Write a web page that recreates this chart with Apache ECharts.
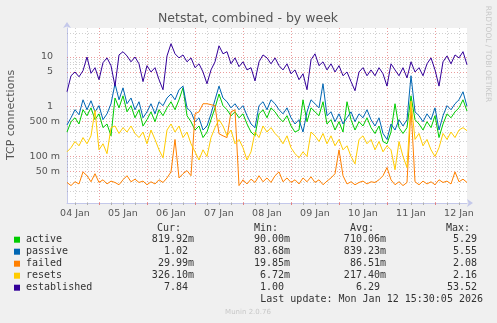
<!DOCTYPE html>
<html><head><meta charset="utf-8">
<script src="https://cdn.jsdelivr.net/npm/echarts@6/dist/echarts.min.js"></script>
<style>html,body{margin:0;padding:0;background:#f0f0f0;}#c{width:497px;height:323px;}</style>
</head><body><div id="c"></div>
<script>
// Time axis: Jan 4 08:00 onward, one point every 2 hours (hours since Jan 4 00:00)
const startHour = 8;
const stepHours = 2;

const active = [
0.31,0.5,0.6,0.45,0.87,0.66,0.95,0.55,0.72,0.38,
0.45,0.26,1.5,0.95,1.66,0.79,1.05,0.6,0.87,0.41,
0.55,0.79,0.5,0.87,0.66,0.95,1.26,0.87,1.38,2.4,
0.66,0.5,0.34,0.41,0.24,0.31,0.55,0.95,1.8,1.05,
0.87,0.66,0.79,0.6,0.72,0.45,0.31,0.26,0.72,0.87,
0.6,0.95,0.79,0.6,0.5,0.66,0.41,0.31,0.34,1.38,
0.5,0.95,0.79,0.66,1.26,0.45,0.55,0.34,0.5,0.31,
1.26,0.55,0.34,0.5,0.41,0.6,0.38,0.29,0.41,0.2,
0.18,0.31,1.15,0.38,0.29,0.38,1.66,0.55,0.45,0.34,
0.5,0.38,0.66,0.24,0.45,0.72,0.6,0.79,0.95,1.38,
0.82];
const passive = [
0.43,0.6,0.87,0.69,1.38,0.87,1.32,0.79,1.05,0.55,
0.72,1.15,2.9,1.38,2.4,1.15,1.5,0.87,1.26,0.6,
0.79,1.15,0.72,1.26,1.05,1.5,1.8,1.38,2.2,2.6,
0.95,0.79,0.5,0.6,0.34,0.41,0.72,1.38,2.6,1.5,
1.26,0.95,1.15,0.87,1.05,0.66,0.45,0.38,1.05,1.26,
0.87,1.38,1.15,0.87,0.72,0.95,0.6,0.45,0.55,0.31,
0.79,1.38,1.15,0.95,2.9,0.66,0.79,0.5,0.72,0.45,
0.6,0.79,0.5,0.72,0.6,0.87,0.55,0.41,0.6,0.29,
0.22,0.45,0.34,0.55,0.41,0.55,4.2,0.79,0.66,0.5,
0.72,0.55,0.95,0.34,0.66,1.05,0.87,1.15,1.38,2.0,
1.02];
const failed = [
0.03,0.026,0.031,0.028,0.049,0.041,0.031,0.045,0.03,0.034,
0.028,0.032,0.03,0.027,0.034,0.041,0.031,0.035,0.03,0.032,
0.027,0.031,0.028,0.034,0.03,0.037,0.049,0.22,0.037,0.045,
0.052,0.041,0.72,0.79,1.15,1.15,1.1,1.05,0.286,0.26,
0.24,0.79,0.87,0.026,0.034,0.028,0.035,0.03,0.041,0.031,
0.037,0.03,0.041,0.049,0.031,0.037,0.03,0.034,0.028,0.037,
0.031,0.039,0.03,0.034,0.027,0.032,0.037,0.045,0.136,0.041,
0.028,0.031,0.027,0.03,0.032,0.028,0.031,0.03,0.034,0.041,
0.06,0.034,0.027,0.031,0.026,0.03,0.95,0.031,0.027,0.032,
0.028,0.031,0.027,0.034,0.03,0.032,0.028,0.049,0.031,0.035,
0.03];
const resets = [
0.124,0.15,0.2,0.164,0.24,0.18,0.26,0.85,0.136,0.18,
0.114,0.38,0.41,0.29,0.38,0.31,0.41,0.29,0.24,0.31,
0.18,0.34,0.22,0.136,0.094,0.34,0.45,0.31,0.41,0.24,
0.31,0.18,0.124,0.085,0.136,0.1,0.24,0.38,0.55,0.41,
0.26,0.34,0.18,0.22,0.15,0.085,0.124,0.31,0.24,0.41,
0.31,0.38,0.29,0.24,0.18,0.26,0.15,0.114,0.094,0.124,
0.1,0.31,0.26,0.2,0.29,0.18,0.26,0.164,0.22,0.136,
0.164,0.1,0.071,0.22,0.26,0.18,0.22,0.136,0.2,0.124,
0.164,0.136,0.054,0.2,0.1,0.06,1.3,0.22,0.29,0.164,
0.22,0.136,0.1,0.15,0.29,0.22,0.31,0.24,0.34,0.38,
0.33];
const established = [
2.0,4.2,5.0,4.0,5.3,10,4.7,6.1,3.5,7.7,
9.6,6.7,2.6,11,12.8,10.5,8.0,10,7.3,3.2,
6.7,5.0,6.1,3.5,2.2,10.5,18.5,11.6,9.6,11,
8.0,9.6,6.1,7.3,5.0,2.9,5.5,8.0,16.8,11.6,
12.8,7.3,9.6,6.4,8.0,5.5,6.1,3.3,8.0,11,
9.6,7.3,9.6,6.7,5.5,7.3,4.6,5.5,3.5,4.6,
2.2,8.8,11.6,6.7,8.0,5.5,7.3,5.0,6.7,4.2,
5.0,3.2,2.1,5.0,6.1,4.2,5.5,4.2,6.1,4.6,
2.6,7.3,5.5,4.2,6.1,3.8,8.0,5.0,6.1,4.2,
7.3,9.6,5.5,2.6,8.0,10.5,7.3,11,9.6,12.8,
7.0];

const seriesNames = ['active','passive','failed','resets','established'];
const seriesColors = ['#00cc00','#0066b3','#ff8000','#ffcc00','#330099'];
const curVals = ['819.92m','1.02','29.99m','326.10m','7.84'];
const minVals = ['90.00m','83.68m','19.85m','6.72m','1.00'];
const avgVals = ['710.06m','839.23m','86.51m','217.40m','6.29'];
const maxVals = ['5.29','5.55','2.08','2.16','53.52'];
const colHeaders = ['Cur:','Min:','Avg:','Max:'];

const yMajor = [0.05,0.1,0.5,1,5,10];
const yMajorLabels = ['50 m','100 m','500 m','1','5','10'];
const yMinor = [0.02,0.03,0.04,0.06,0.07,0.08,0.09,0.2,0.3,0.4,0.6,0.7,0.8,0.9,2,3,4,6,7,8,9,20,30];
const yMin = 0.0116, yMax = 38.3;

const titleText = 'Netstat, combined - by week';
const yName = 'TCP connections';
const lastUpdate = 'Last update: Mon Jan 12 15:30:05 2026';
const sideText = 'RRDTOOL / TOBI OETIKER';
const footer = 'Munin 2.0.76';

const cats = active.map((_, i) => String(startHour + i * stepHours));
const dayLabel = v => { const d = 4 + Math.floor(Number(v) / 24); return (d < 10 ? '0' : '') + d + ' Jan'; };
const hourOf = v => Number(v) % 24;

const sans = 'DejaVu Sans', mono = 'DejaVu Sans Mono';
const minorColor = 'rgba(150,150,150,0.45)';
const majorColor = 'rgba(220,90,90,0.6)';
const axisColor = '#c4c8ea';

const chart = echarts.init(document.getElementById('c'));

const markData = [
  ...yMinor.map(v => ({yAxis: v, lineStyle: {color: minorColor}, label: {show: false}})),
  ...yMajor.map((v, k) => ({yAxis: v, name: yMajorLabels[k], lineStyle: {color: majorColor},
     label: {show: true, position: 'start', formatter: '{b}', distance: yMajorLabels[k].indexOf('m') >= 0 ? 7 : 14,
       color: '#555', fontFamily: sans, fontSize: 9.5}}))
];

const dataSeries = [active, passive, failed, resets, established].map((d, k) => ({
  name: seriesNames[k], type: 'line', data: d, showSymbol: false, symbol: 'none',
  lineStyle: {width: 1, color: seriesColors[k]}, itemStyle: {color: seriesColors[k]},
  z: 3, animation: false
}));

const graphics = [];
graphics.push({type: 'text', x: 248, y: 18.5, style: {text: titleText, fill: '#555', font: '12.5px "DejaVu Sans"', align: 'center', verticalAlign: 'middle'}});
graphics.push({type: 'text', x: 11, y: 115, rotation: Math.PI / 2, style: {text: yName, fill: '#555', font: '11px "DejaVu Sans"', align: 'center', verticalAlign: 'middle'}});
graphics.push({type: 'text', x: 488, y: 54, rotation: -Math.PI / 2, style: {text: sideText, fill: '#c8c8c8', font: '7.5px "DejaVu Sans"', align: 'center', verticalAlign: 'middle'}});
const rowY = [239.7, 251.7, 263.7, 275.7, 287.7];
const colRight = [188, 284, 380, 477];
const hdrRight = [181, 278, 374, 470];
colHeaders.forEach((h, c) => graphics.push({type: 'text', x: hdrRight[c], y: 228.3, style: {text: h, fill: '#333', font: '10px "DejaVu Sans Mono"', align: 'right', verticalAlign: 'middle'}}));
seriesNames.forEach((n, r) => {
  graphics.push({type: 'rect', shape: {x: 14, y: rowY[r] - 3, width: 6, height: 6}, style: {fill: seriesColors[r]}});
  graphics.push({type: 'text', x: 26, y: rowY[r], style: {text: n, fill: '#333', font: '10px "DejaVu Sans Mono"', align: 'left', verticalAlign: 'middle'}});
  [curVals, minVals, avgVals, maxVals].forEach((arr, c) => {
    const s = arr[r];
    const xr = colRight[c] + (s.endsWith('m') ? 6 : 0);
    graphics.push({type: 'text', x: xr, y: rowY[r], style: {text: s, fill: '#333', font: '10px "DejaVu Sans Mono"', align: 'right', verticalAlign: 'middle'}});
  });
});
graphics.push({type: 'text', x: 483, y: 299.3, style: {text: lastUpdate, fill: '#333', font: '10px "DejaVu Sans Mono"', align: 'right', verticalAlign: 'middle'}});
graphics.push({type: 'text', x: 248, y: 312, style: {text: footer, fill: '#c8c8c8', font: '7px "DejaVu Sans"', align: 'center', verticalAlign: 'middle'}});

chart.setOption({
  animation: false,
  backgroundColor: '#f0f0f0',
  grid: {left: 67, top: 28, width: 400, height: 175, show: true, backgroundColor: '#ffffff', borderWidth: 0},
  xAxis: [
    {type: 'category', data: cats, boundaryGap: false,
     axisLine: {show: true, lineStyle: {color: axisColor, width: 1}, symbol: ['none', 'arrow'], symbolSize: [6, 6], symbolOffset: [0, 6]},
     axisTick: {show: true, length: 2, interval: (i, v) => hourOf(v) % 6 === 0 && hourOf(v) !== 0, lineStyle: {color: '#b0b0b0'}},
     axisLabel: {show: true, interval: (i, v) => hourOf(v) === 12, formatter: v => dayLabel(v), color: '#555', fontFamily: sans, fontSize: 9.5, margin: 6},
     splitLine: {show: true, interval: (i, v) => hourOf(v) % 6 === 0 && hourOf(v) !== 0, lineStyle: {color: minorColor, type: [1, 2], width: 1}}},
    {type: 'category', data: cats, boundaryGap: false, position: 'bottom',
     axisLine: {show: false},
     axisTick: {show: true, length: 2, interval: (i, v) => hourOf(v) === 0, lineStyle: {color: '#e08080'}},
     axisLabel: {show: false},
     splitLine: {show: true, interval: (i, v) => hourOf(v) === 0, lineStyle: {color: majorColor, type: [1, 2], width: 1}}}
  ],
  yAxis: {type: 'log', min: yMin, max: yMax,
    axisLine: {show: true, lineStyle: {color: axisColor, width: 1}, symbol: ['none', 'arrow'], symbolSize: [6, 6], symbolOffset: [0, 6]},
    axisTick: {show: false}, axisLabel: {show: false}, splitLine: {show: false}, minorTick: {show: false}, minorSplitLine: {show: false}},
  series: [
    {name: 'grid', type: 'line', data: [], z: 1, silent: true,
     markLine: {silent: true, z: 1, symbol: ['none', 'none'], animation: false,
       lineStyle: {type: [1, 2], width: 1}, data: markData}},
    ...dataSeries
  ],
  graphic: graphics
});
</script></body></html>
